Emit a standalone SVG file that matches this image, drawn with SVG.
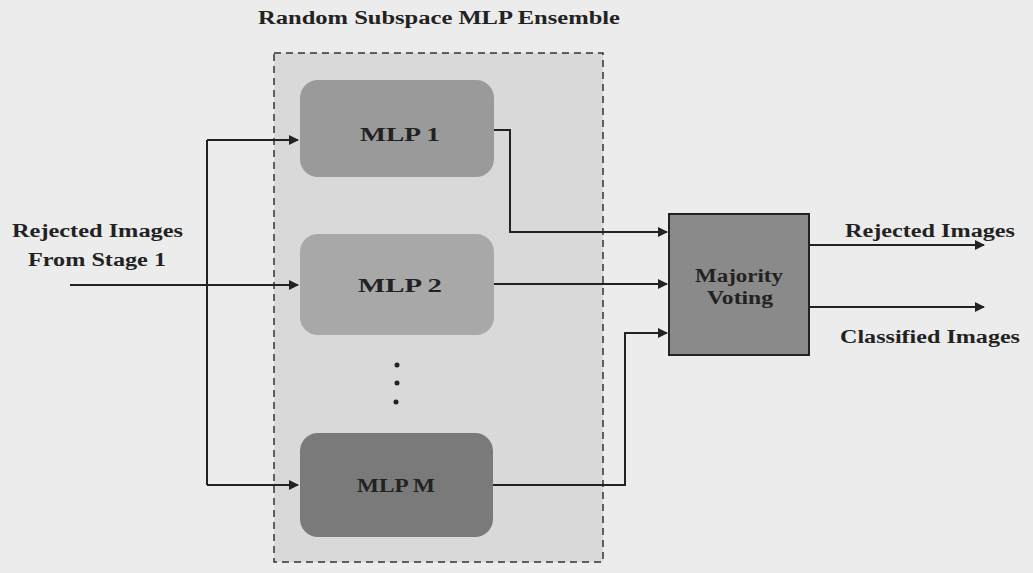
<svg xmlns="http://www.w3.org/2000/svg" width="1033" height="573" viewBox="0 0 1033 573">
<defs>
<style>
.t{font-family:"Liberation Serif","Times New Roman",serif;font-weight:bold;font-size:18px;fill:#222}
.c{fill:none;stroke:#222;stroke-width:2}
.mlp{stroke:none}
</style>
<marker id="ah" viewBox="0 0 10 10" refX="9" refY="5" markerWidth="5" markerHeight="5" orient="auto" markerUnits="strokeWidth"><path d="M0,0 L10,5 L0,10 z" fill="#222"/></marker>
</defs>
<rect width="1033" height="573" fill="#ececec"/>
<text class="t" x="258" y="24" textLength="362" lengthAdjust="spacingAndGlyphs">Random Subspace MLP Ensemble</text>
<g id="ensemble">
<rect x="274" y="53" width="329" height="509" fill="#d9d9d9" stroke="#333" stroke-width="1.5" stroke-dasharray="7,5"/>
</g>
<g id="mlp1">
<rect class="mlp" x="300" y="80" width="194" height="97" rx="18" fill="#9a9a9a"/>
<text class="t" x="360" y="141" textLength="80" lengthAdjust="spacingAndGlyphs">MLP 1</text>
</g>
<g id="mlp2">
<rect class="mlp" x="300" y="234" width="194" height="101" rx="18" fill="#a8a8a8"/>
<text class="t" x="358" y="292" textLength="84" lengthAdjust="spacingAndGlyphs">MLP 2</text>
</g>
<g id="dots">
<circle cx="397" cy="365" r="2.5" fill="#222"/>
<circle cx="397" cy="383" r="2.5" fill="#222"/>
<circle cx="396" cy="402" r="2.5" fill="#222"/>
</g>
<g id="mlpM">
<rect class="mlp" x="300" y="433" width="193" height="104" rx="18" fill="#7a7a7a"/>
<text class="t" x="357" y="492" textLength="78" lengthAdjust="spacingAndGlyphs">MLP M</text>
</g>
<g id="voting">
<rect x="669" y="214" width="140" height="141" fill="#8a8a8a" stroke="#222" stroke-width="2"/>
<text class="t" x="695" y="282" textLength="88" lengthAdjust="spacingAndGlyphs">Majority</text>
<text class="t" x="707" y="304" textLength="66" lengthAdjust="spacingAndGlyphs">Voting</text>
</g>
<g id="labels">
<text class="t" x="12" y="237" textLength="171" lengthAdjust="spacingAndGlyphs">Rejected Images</text>
<text class="t" x="28" y="266" textLength="138" lengthAdjust="spacingAndGlyphs">From Stage 1</text>
<text class="t" x="845" y="237" textLength="170" lengthAdjust="spacingAndGlyphs">Rejected Images</text>
<text class="t" x="840" y="343" textLength="180" lengthAdjust="spacingAndGlyphs">Classified Images</text>
</g>
<g id="connectors">
<path class="c" d="M70,285 H298" marker-end="url(#ah)"/>
<path class="c" d="M207,140 V485"/>
<path class="c" d="M207,140 H298" marker-end="url(#ah)"/>
<path class="c" d="M207,485 H298" marker-end="url(#ah)"/>
<path class="c" d="M494,130 H510 V232 H667" marker-end="url(#ah)"/>
<path class="c" d="M494,284 H667" marker-end="url(#ah)"/>
<path class="c" d="M493,485 H625 V333 H667" marker-end="url(#ah)"/>
<path class="c" d="M809,245 H984" marker-end="url(#ah)"/>
<path class="c" d="M809,307 H984" marker-end="url(#ah)"/>
</g>
</svg>
